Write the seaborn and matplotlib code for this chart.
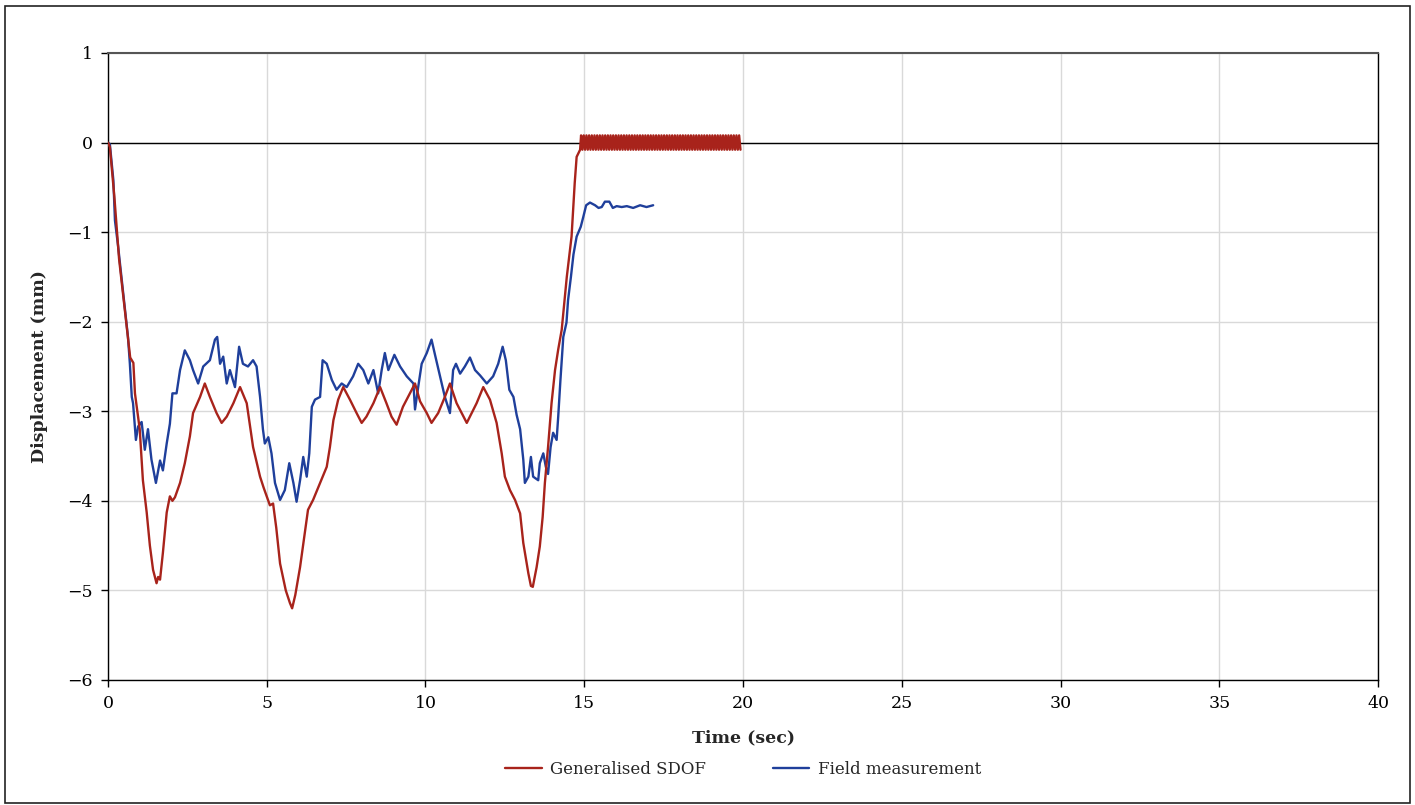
import numpy as np
import pandas as pd
import matplotlib
matplotlib.use("Agg")
import matplotlib.pyplot as plt
import seaborn as sns
from matplotlib.patches import Rectangle

# ---------------- data ----------------
sdof_t = [0, 0.06, 0.2, 0.35, 0.54, 0.7, 0.8, 0.85, 1.0, 1.1, 1.22, 1.32, 1.42, 1.53,
          1.58, 1.64, 1.73, 1.85, 1.95, 2.03, 2.11, 2.27, 2.42, 2.58, 2.68, 2.9, 3.05,
          3.21, 3.42, 3.58, 3.74, 3.95, 4.16, 4.37, 4.57, 4.79, 4.9, 5.0, 5.1, 5.2, 5.3,
          5.42, 5.6, 5.73, 5.8, 5.9, 6.05, 6.3, 6.46, 6.68, 6.89, 6.99, 7.1, 7.25, 7.41,
          7.62, 7.83, 7.99, 8.14, 8.36, 8.57, 8.77, 8.93, 9.09, 9.29, 9.51, 9.67, 9.83,
          10.04, 10.19, 10.4, 10.61, 10.77, 10.98, 11.3, 11.61, 11.82, 12.03, 12.24,
          12.4, 12.5, 12.66, 12.82, 12.98, 13.08, 13.24, 13.32, 13.38, 13.44, 13.5,
          13.6, 13.69, 13.76, 13.86, 13.97, 14.08, 14.18, 14.29, 14.45, 14.6, 14.7,
          14.76, 14.87]
sdof_y = [0, -0.05, -0.6, -1.3, -1.9, -2.4, -2.46, -2.8, -3.2, -3.77, -4.13, -4.5, -4.77,
          -4.92, -4.85, -4.88, -4.58, -4.13, -3.95, -4.0, -3.96, -3.8, -3.58, -3.28,
          -3.02, -2.84, -2.69, -2.84, -3.02, -3.13, -3.06, -2.91, -2.73, -2.91, -3.4,
          -3.73, -3.85, -3.95, -4.05, -4.03, -4.3, -4.7, -5.0, -5.14, -5.2, -5.05,
          -4.74, -4.1, -3.99, -3.8, -3.62, -3.4, -3.1, -2.87, -2.73, -2.87, -3.02,
          -3.13, -3.06, -2.91, -2.73, -2.91, -3.06, -3.15, -2.95, -2.8, -2.69, -2.89,
          -3.02, -3.13, -3.02, -2.84, -2.69, -2.91, -3.13, -2.91, -2.73, -2.87, -3.13,
          -3.47, -3.73, -3.88, -3.99, -4.14, -4.47, -4.81, -4.95, -4.96, -4.85, -4.74,
          -4.51, -4.18, -3.8, -3.4, -2.91, -2.54, -2.31, -2.09, -1.5, -1.05, -0.45,
          -0.16, -0.08]

# free-vibration tail of the SDOF model (14.9 s - 19.92 s)
osc_start, osc_end = 14.9, 19.92
osc_y = [0.08, -0.08, 0.08, -0.08, 0.08, -0.08, 0.08, -0.08, 0.08, -0.08,
         0.08, -0.08, 0.08, -0.08, 0.08, -0.08, 0.08, -0.08, 0.08, -0.08,
         0.08, -0.08, 0.08, -0.08, 0.08, -0.08, 0.08, -0.08, 0.08, -0.08,
         0.08, -0.08, 0.08, -0.08, 0.08, -0.08, 0.08, -0.08, 0.08, -0.08,
         0.08, -0.08, 0.08, -0.08, 0.08, -0.08, 0.08, -0.08, 0.08, -0.08,
         0.08, -0.08, 0.08, -0.08, 0.08, -0.08, 0.08, -0.08, 0.08, -0.08,
         0.08, -0.08, 0.08, -0.08, 0.08, -0.08, 0.08, -0.08, 0.08, -0.08,
         0.08, -0.08, 0.08, -0.08, 0.08, -0.08, 0.08, -0.08, 0.08, -0.08,
         0.08, -0.08, 0.08, -0.08, 0.08, -0.08, 0.08, -0.08, 0.08, -0.08,
         0.08, -0.08, 0.08, -0.08, 0.08, -0.08, 0.08, -0.08, 0.08, -0.08,
         0.08, -0.08, 0.08, -0.08, 0.08, -0.08, 0.08, -0.08, 0.08, -0.08,
         0.08, -0.08, 0.08, -0.08, 0.08, -0.08, 0.08, -0.08, 0.08, -0.08]

field_t = [0, 0.06, 0.17, 0.22, 0.32, 0.47, 0.63, 0.69, 0.75, 0.79, 0.88, 0.95, 1.06,
           1.16, 1.26, 1.37, 1.51, 1.64, 1.73, 1.85, 1.95, 2.03, 2.16, 2.27, 2.42,
           2.58, 2.68, 2.84, 3.0, 3.21, 3.37, 3.44, 3.53, 3.63, 3.74, 3.84, 4.0, 4.13,
           4.25, 4.41, 4.57, 4.68, 4.79, 4.88, 4.94, 5.05, 5.15, 5.26, 5.42, 5.57,
           5.71, 5.84, 5.94, 6.05, 6.15, 6.26, 6.34, 6.42, 6.52, 6.68, 6.76, 6.89,
           7.05, 7.2, 7.36, 7.52, 7.72, 7.88, 8.04, 8.2, 8.36, 8.51, 8.62, 8.72, 8.83,
           9.02, 9.2, 9.41, 9.62, 9.67, 9.77, 9.88, 10.04, 10.19, 10.3, 10.46, 10.61,
           10.77, 10.87, 10.96, 11.09, 11.24, 11.4, 11.56, 11.72, 11.93, 12.13, 12.29,
           12.43, 12.53, 12.64, 12.77, 12.87, 12.98, 13.08, 13.13, 13.24, 13.32,
           13.39, 13.55, 13.6, 13.71, 13.79, 13.86, 13.94, 14.02, 14.13, 14.18, 14.25,
           14.34, 14.44, 14.49, 14.58, 14.66, 14.76, 14.89, 14.97, 15.06, 15.18,
           15.34, 15.45, 15.55, 15.65, 15.79, 15.9, 16.02, 16.18, 16.34, 16.54,
           16.76, 16.96, 17.17]
field_y = [0, -0.02, -0.42, -0.87, -1.16, -1.65, -2.17, -2.47, -2.84, -2.91, -3.32,
           -3.17, -3.12, -3.43, -3.2, -3.54, -3.8, -3.55, -3.66, -3.36, -3.14, -2.8,
           -2.8, -2.54, -2.32, -2.43, -2.54, -2.69, -2.5, -2.43, -2.2, -2.17, -2.47,
           -2.39, -2.69, -2.54, -2.73, -2.28, -2.47, -2.5, -2.43, -2.5, -2.84, -3.2,
           -3.36, -3.29, -3.47, -3.8, -3.99, -3.88, -3.58, -3.8, -4.01, -3.77, -3.51,
           -3.73, -3.47, -2.95, -2.87, -2.84, -2.43, -2.47, -2.65, -2.76, -2.69,
           -2.73, -2.61, -2.47, -2.54, -2.69, -2.54, -2.8, -2.54, -2.35, -2.54, -2.37,
           -2.5, -2.61, -2.69, -2.98, -2.73, -2.47, -2.35, -2.2, -2.37, -2.61, -2.84,
           -3.02, -2.54, -2.47, -2.58, -2.5, -2.4, -2.54, -2.6, -2.69, -2.61, -2.47,
           -2.28, -2.43, -2.76, -2.84, -3.04, -3.2, -3.54, -3.8, -3.73, -3.51, -3.73,
           -3.77, -3.58, -3.47, -3.62, -3.7, -3.4, -3.24, -3.32, -3.06, -2.65, -2.17,
           -2.01, -1.76, -1.5, -1.25, -1.05, -0.94, -0.83, -0.7, -0.67, -0.7, -0.73,
           -0.72, -0.66, -0.66, -0.73, -0.71, -0.72, -0.71, -0.73, -0.7, -0.72, -0.7]

x_ticks = [0, 5, 10, 15, 20, 25, 30, 35, 40]
y_ticks = [-6, -5, -4, -3, -2, -1, 0, 1]
series_names = ["Generalised SDOF", "Field measurement"]
series_colors = ["#a8231b", "#1f3f9b"]

# ---------------- build tables ----------------
osc_t = list(np.linspace(osc_start, osc_end, len(osc_y)))
sdof = pd.DataFrame({"t": sdof_t + osc_t, "y": sdof_y + osc_y,
                     "series": series_names[0]})
field = pd.DataFrame({"t": field_t, "y": field_y, "series": series_names[1]})

# ---------------- plot ----------------
sns.set_theme(style="ticks")
plt.rcParams["font.family"] = ["DejaVu Serif"]
plt.rcParams["axes.unicode_minus"] = True

fig = plt.figure(figsize=(14.15, 8.05), dpi=100)
ax = fig.add_axes([0.0763, 0.1553, 0.8976, 0.7789])

ax.grid(True, color="#d9d9d9", linewidth=1.0, zorder=0)
ax.axhline(0, color="black", linewidth=1.0, zorder=1)

sns.lineplot(data=sdof, x="t", y="y", ax=ax, color=series_colors[0],
             linewidth=1.7, sort=False, estimator=None, label=series_names[0],
             zorder=3)
sns.lineplot(data=field, x="t", y="y", ax=ax, color=series_colors[1],
             linewidth=1.7, sort=False, estimator=None, label=series_names[1],
             zorder=2)

ax.set_xlim(0, 40)
ax.set_ylim(-6, 1)
ax.set_xticks(x_ticks)
ax.set_yticks(y_ticks)
ax.tick_params(axis="both", direction="out", length=5, width=1, colors="black",
               labelsize=12.5, pad=6)
for sp in ax.spines.values():
    sp.set_visible(True)
    sp.set_color("black")
    sp.set_linewidth(1.0)
ax.spines["top"].set_color("#555555")
ax.spines["top"].set_linewidth(1.5)

ax.set_xlabel("Time (sec)", fontsize=12.5, fontweight="bold", labelpad=12)
ax.set_ylabel("Displacement (mm)", fontsize=12.5, fontweight="bold", labelpad=14)

handles, labels = ax.get_legend_handles_labels()
ax.legend(handles, labels, loc="center", bbox_to_anchor=(0.5, -0.143), ncol=2,
          frameon=False, fontsize=12, handlelength=2.2, columnspacing=4.0,
          handletextpad=0.5)

fig.patches.append(Rectangle((0.0035, 0.002), 0.993, 0.991, transform=fig.transFigure,
                             fill=False, edgecolor="#222222", linewidth=1.2))

fig.savefig("out.png", dpi=100)
